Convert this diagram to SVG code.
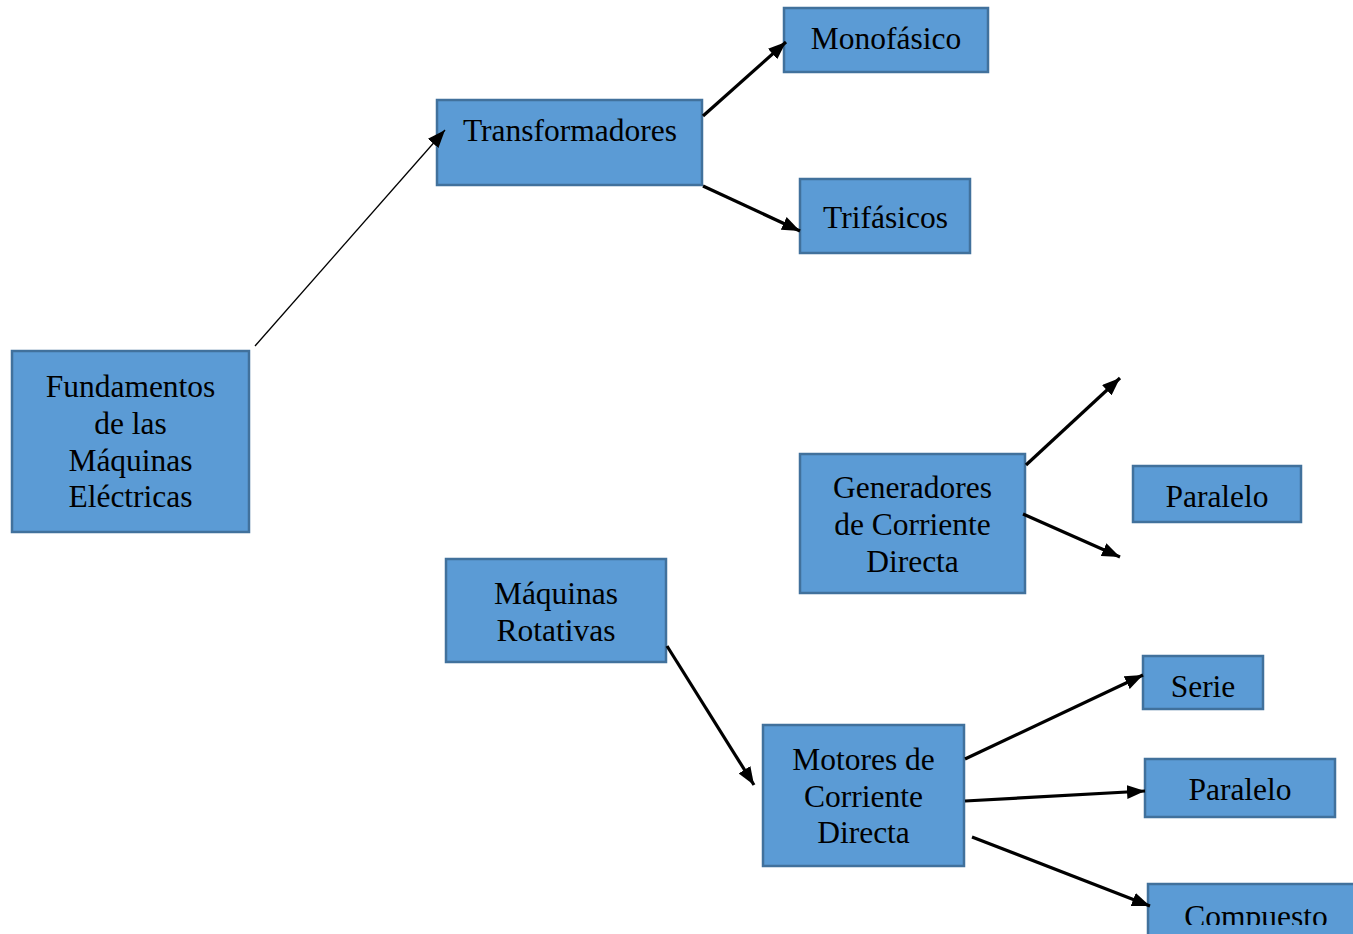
<svg xmlns="http://www.w3.org/2000/svg" width="1353" height="934" viewBox="0 0 1353 934">
<style>
.box{fill:#5b9bd5;stroke:#41719c;stroke-width:2.5}
.t{font-family:"Liberation Serif","Times New Roman",serif;font-size:31.5px;fill:#000;text-anchor:middle}
.c{stroke:#000;fill:none}
.thin{stroke-width:1.3}
.thick{stroke-width:3.2}
</style>
<defs>
<marker id="ah" viewBox="0 0 10 10" refX="10" refY="5" markerWidth="18" markerHeight="14" preserveAspectRatio="none" markerUnits="userSpaceOnUse" orient="auto">
<path d="M0,0 L10,5 L0,10 Z" fill="#000"/>
</marker>
<clipPath id="clipComp"><rect x="1148" y="884" width="220" height="41"/></clipPath>
</defs>
<rect width="1353" height="934" fill="#fff"/>
<g id="fundamentos">
<rect class="box" x="12" y="351" width="237" height="181"/>
<text class="t" x="130.5" y="397">Fundamentos</text>
<text class="t" x="130.5" y="434">de las</text>
<text class="t" x="130.5" y="471">Máquinas</text>
<text class="t" x="130.5" y="507">Eléctricas</text>
</g>
<g id="transformadores">
<rect class="box" x="437" y="100" width="265" height="85"/>
<text class="t" x="570" y="141">Transformadores</text>
</g>
<g id="monofasico">
<rect class="box" x="784" y="8" width="204" height="64"/>
<text class="t" x="886" y="49">Monofásico</text>
</g>
<g id="trifasicos">
<rect class="box" x="800" y="179" width="170" height="74"/>
<text class="t" x="885.5" y="228">Trifásicos</text>
</g>
<g id="generadores">
<rect class="box" x="800" y="454" width="225" height="139"/>
<text class="t" x="912.5" y="498">Generadores</text>
<text class="t" x="912.5" y="535">de Corriente</text>
<text class="t" x="912.5" y="572">Directa</text>
</g>
<g id="paralelo-gen">
<rect class="box" x="1133" y="466" width="168" height="56"/>
<text class="t" x="1217" y="507">Paralelo</text>
</g>
<g id="maquinas-rotativas">
<rect class="box" x="446" y="559" width="220" height="103"/>
<text class="t" x="556" y="604">Máquinas</text>
<text class="t" x="556" y="641">Rotativas</text>
</g>
<g id="motores">
<rect class="box" x="763" y="725" width="201" height="141"/>
<text class="t" x="863.5" y="770">Motores de</text>
<text class="t" x="863.5" y="807">Corriente</text>
<text class="t" x="863.5" y="843">Directa</text>
</g>
<g id="serie">
<rect class="box" x="1143" y="656" width="120" height="53"/>
<text class="t" x="1203" y="697">Serie</text>
</g>
<g id="paralelo-mot">
<rect class="box" x="1145" y="759" width="190" height="58"/>
<text class="t" x="1240" y="800">Paralelo</text>
</g>
<g id="compuesto">
<rect class="box" x="1148" y="884" width="216" height="70"/>
<text class="t" x="1256" y="927" clip-path="url(#clipComp)">Compuesto</text>
</g>
<g id="connectors">
<line class="c thin" x1="255" y1="346" x2="445" y2="130" marker-end="url(#ah)"/>
<line class="c thick" x1="703" y1="116" x2="786" y2="42" marker-end="url(#ah)"/>
<line class="c thick" x1="703" y1="186" x2="800" y2="231" marker-end="url(#ah)"/>
<line class="c thick" x1="1026" y1="465" x2="1120" y2="378" marker-end="url(#ah)"/>
<line class="c thick" x1="1023" y1="514" x2="1120" y2="557" marker-end="url(#ah)"/>
<line class="c thick" x1="667" y1="646" x2="754" y2="785" marker-end="url(#ah)"/>
<line class="c thick" x1="965" y1="759" x2="1143" y2="675" marker-end="url(#ah)"/>
<line class="c thick" x1="965" y1="801" x2="1145" y2="791" marker-end="url(#ah)"/>
<line class="c thick" x1="972" y1="837" x2="1150" y2="906" marker-end="url(#ah)"/>
</g>
</svg>
